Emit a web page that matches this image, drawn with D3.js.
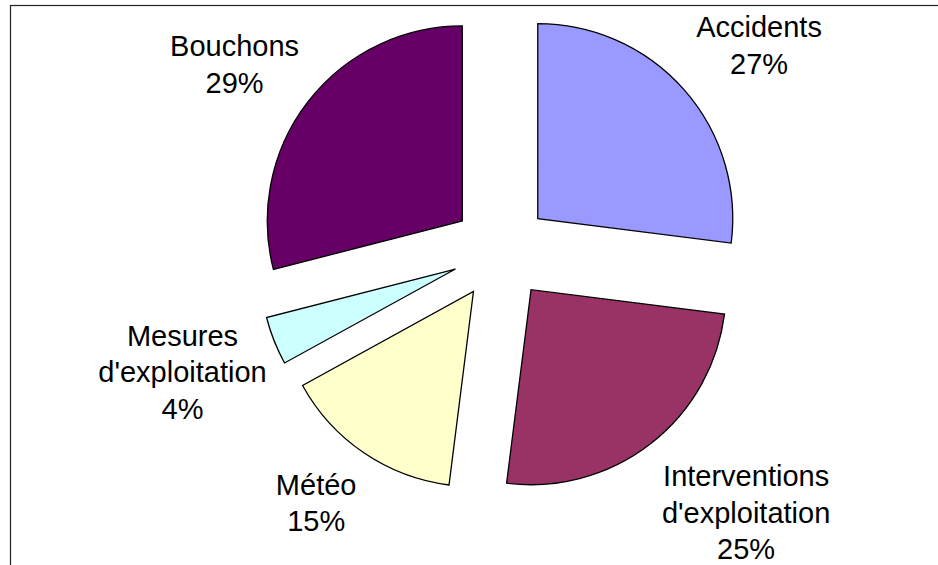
<!DOCTYPE html>
<html>
<head>
<meta charset="utf-8">
<script src="https://cdn.jsdelivr.net/npm/d3@7/dist/d3.min.js"></script>
<style>
  html, body { margin: 0; padding: 0; background: #fff; }
  svg { display: block; }
</style>
</head>
<body>
<svg id="chart" width="938" height="565"></svg>
<script>
// ---- data ----
const categories = ["Accidents", "Interventions d'exploitation", "Météo", "Mesures d'exploitation", "Bouchons"];
const labelLines = [["Accidents"], ["Interventions", "d'exploitation"], ["Météo"], ["Mesures", "d'exploitation"], ["Bouchons"]];
const values = [27, 25, 15, 4, 29];
const colors = ["#9999FF", "#993366", "#FFFFCC", "#CCFFFF", "#660066"];

// ---- layout ----
const W = 938, H = 565;
const cx = 501, cy = 251;
const radius = 195;
const explode = 49;
const labelRadius = 320;
const labelNudge = [[18, -2], [49, -18], [-5, -21], [-21, -23], [-13.6, 1]];
const fontSize = 29;
const lineH = 36.7;

const svg = d3.select("#chart");

// frame
svg.append("rect")
  .attr("x", 10.5).attr("y", 5.5)
  .attr("width", W + 20).attr("height", H + 20)
  .attr("fill", "none").attr("stroke", "#222").attr("stroke-width", 1.2);

const pie = d3.pie().sort(null).value(d => d)
  .startAngle(0).endAngle(2 * Math.PI);
const arcs = pie(values);

const arc = d3.arc().innerRadius(0).outerRadius(radius);

const g = svg.append("g").attr("transform", `translate(${cx},${cy})`);

g.selectAll("path.slice")
  .data(arcs)
  .join("path")
  .attr("class", "slice")
  .attr("d", arc)
  .attr("fill", (d, i) => colors[i])
  .attr("stroke", "#000")
  .attr("stroke-width", 1.3)
  .attr("stroke-linejoin", "miter")
  .attr("transform", d => {
    const a = (d.startAngle + d.endAngle) / 2;
    return `translate(${explode * Math.sin(a)},${-explode * Math.cos(a)})`;
  });

// labels
g.selectAll("text.lbl")
  .data(arcs)
  .join("text")
  .attr("class", "lbl")
  .attr("text-anchor", "middle")
  .attr("font-family", "'Liberation Sans', Arial, sans-serif")
  .attr("font-size", fontSize)
  .attr("fill", "#000")
  .each(function(d, i) {
    const a = (d.startAngle + d.endAngle) / 2;
    const x = labelRadius * Math.sin(a) + labelNudge[i][0];
    const y = -labelRadius * Math.cos(a) + labelNudge[i][1];
    const t = d3.select(this);
    const lines = labelLines[i].concat([d3.format(".0f")(values[i]) + "%"]);
    lines.forEach((ln, k) => {
      t.append("tspan").attr("x", x).attr("y", y + k * lineH).text(ln);
    });
  });
</script>
</body>
</html>
